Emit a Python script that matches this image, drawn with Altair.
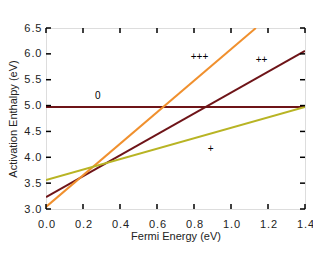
import altair as alt
import pandas as pd

# data
series = ["0", "++", "+++", "+"]
y_start = [4.97, 3.23, 3.04, 3.56]
slopes = [0.0, 2.02, 3.05, 1.01]
colors = ["#6e1418", "#6e1418", "#f0902e", "#b8b424"]

label_text = ["0", "+++", "++", "+"]
label_x = [0.28, 0.83, 1.165, 0.89]
label_y = [5.19, 5.93, 5.89, 4.16]

x_ticks = [0.0, 0.2, 0.4, 0.6, 0.8, 1.0, 1.2, 1.4]
y_ticks = [3.0, 3.5, 4.0, 4.5, 5.0, 5.5, 6.0, 6.5]

W, H = 259, 181
FONT = "Liberation Sans"
SP = "\u200a"

rows = []
for s, b, m in zip(series, y_start, slopes):
    xe = 1.4
    ye = b + m * xe
    if ye > 6.5:
        xe = (6.5 - b) / m
        ye = 6.5
    rows.append({"s": s, "x": 0.0, "y": b})
    rows.append({"s": s, "x": xe, "y": ye})
df = pd.DataFrame(rows)

xs = alt.Scale(domain=[0, 1.4], nice=False)
ys = alt.Scale(domain=[3.0, 6.5], nice=False)

lbl_expr = f"replace(datum.label, '.', '{SP}.{SP}')"

xa = alt.Axis(
    values=x_ticks, format=".1f", title="Fermi Energy (eV)", grid=False,
    ticks=False, domain=False, labelFont=FONT, labelFontSize=11,
    labelColor="#222", labelPadding=9, labelOverlap=False, labelFlush=False,
    labelExpr=lbl_expr,
    titleFont=FONT, titleFontSize=11,
    titleFontWeight="normal", titleColor="#222", titlePadding=1)
ya = alt.Axis(
    values=y_ticks, format=".1f", title="Activation Enthalpy (eV)", grid=False,
    ticks=False, domain=False, labelFont=FONT, labelFontSize=11,
    labelColor="#222", labelPadding=5, labelOverlap=False, labelFlush=False,
    labelExpr=lbl_expr,
    titleFont=FONT, titleFontSize=11,
    titleFontWeight="normal", titleColor="#222", titlePadding=5)


def X(f):
    return alt.X(f, scale=xs, axis=xa, title="Fermi Energy (eV)")


def Y(f):
    return alt.Y(f, scale=ys, axis=ya, title="Activation Enthalpy (eV)")


lines = alt.Chart(df).mark_line(strokeWidth=2, clip=True).encode(
    x=X("x:Q"), y=Y("y:Q"),
    color=alt.Color("s:N", scale=alt.Scale(domain=series, range=colors), legend=None),
    detail="s:N",
)

lab = alt.Chart(pd.DataFrame({"t": label_text, "x": label_x, "y": label_y})).mark_text(
    font=FONT, fontSize=10, color="black").encode(
    x=X("x:Q"), y=Y("y:Q"), text="t:N")

xt = pd.DataFrame({"x": x_ticks})
yt = pd.DataFrame({"y": y_ticks})
tb = alt.Chart(xt).mark_rule(color="black", strokeWidth=1.5).encode(
    x=X("x:Q"), y=alt.value(H), y2=alt.value(H - 5))
tt = alt.Chart(xt).mark_rule(color="black", strokeWidth=1.5).encode(
    x=X("x:Q"), y=alt.value(0), y2=alt.value(5))
tl = alt.Chart(yt).mark_rule(color="black", strokeWidth=1.5).encode(
    y=Y("y:Q"), x=alt.value(0), x2=alt.value(5))
tr = alt.Chart(yt).mark_rule(color="black", strokeWidth=1.5).encode(
    y=Y("y:Q"), x=alt.value(W), x2=alt.value(W - 5))

chart = alt.layer(lines, lab, tb, tt, tl, tr).properties(
    width=W, height=H,
    autosize=alt.AutoSizeParams(type="none"),
    padding={"left": 38, "top": 20, "right": 8, "bottom": 36},
).configure_view(stroke="black", strokeWidth=2.5).configure(background="white")

chart.save("out.html", embed_options={"renderer": "svg", "actions": False})
